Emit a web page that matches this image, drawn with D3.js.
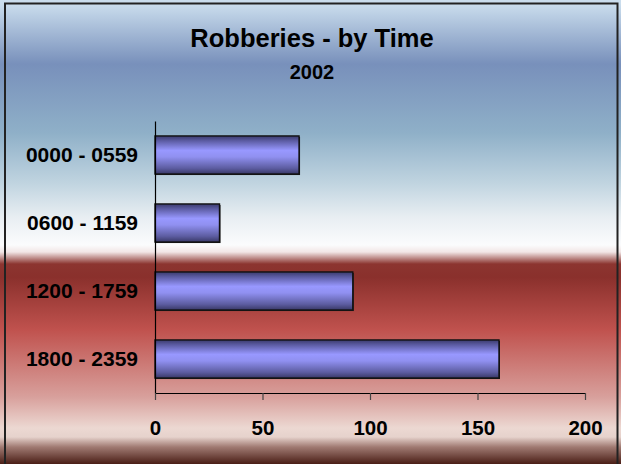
<!DOCTYPE html>
<html><head><meta charset="utf-8">
<script src="https://cdn.jsdelivr.net/npm/d3@7"></script>
<style>html,body{margin:0;padding:0;background:#fff;}svg{display:block;}</style>
</head><body>
<svg id="chart" width="621" height="464"></svg>
<script>
const categories = ["0000 - 0559", "0600 - 1159", "1200 - 1759", "1800 - 2359"];
const values = [67, 30, 92, 160];
const xTicks = [0, 50, 100, 150, 200];
const title = "Robberies - by Time";
const subtitle = "2002";

const W = 621, H = 464;
const svg = d3.select("#chart");
const defs = svg.append("defs");

const bg = defs.append("linearGradient").attr("id", "bg")
  .attr("x1", 0).attr("y1", 0).attr("x2", 0).attr("y2", H).attr("gradientUnits", "userSpaceOnUse");
[[4, "#cadded"], [64, "#7890bb"], [133, "#8fb0c8"], [183, "#c0d4e0"], [217, "#e8eef2"], [245, "#fbfcfd"], [252, "#f2e6e6"],
 [264, "#8c3530"], [277, "#8a302c"], [330, "#c0524e"], [397, "#d8a09c"], [428, "#ecd8d2"], [437, "#e6d2cc"],
 [447, "#a07a72"], [464, "#4a1e16"]]
  .forEach(([y, c]) => bg.append("stop").attr("offset", y / H).attr("stop-color", c));

const barG = defs.append("linearGradient").attr("id", "barg")
  .attr("x1", 0).attr("y1", 0).attr("x2", 0).attr("y2", 1);
[[0, "#3a3a6c"], [0.12, "#5a5aa0"], [0.38, "#9898ff"], [0.55, "#9090f0"], [0.85, "#5c5ca0"], [1, "#383866"]]
  .forEach(([o, c]) => barG.append("stop").attr("offset", o).attr("stop-color", c));

svg.append("rect").attr("x", 0).attr("y", 0).attr("width", W).attr("height", H).attr("fill", "url(#bg)");
svg.append("rect").attr("x", 5).attr("y", 3.5).attr("width", 612.5).attr("height", H).attr("fill", "none")
  .attr("stroke", "#222").attr("stroke-width", 2);

const font = "Liberation Sans, Arial, sans-serif";
svg.append("text").attr("x", 312).attr("y", 47).attr("text-anchor", "middle")
  .attr("font-family", font).attr("font-weight", "bold").attr("font-size", 25.5)
  .attr("fill", "#000").text(title);
svg.append("text").attr("x", 312).attr("y", 79).attr("text-anchor", "middle")
  .attr("font-family", font).attr("font-weight", "bold").attr("font-size", 20)
  .attr("fill", "#000").text(subtitle);

const x = d3.scaleLinear().domain([0, 200]).range([155, 585]);
const y = d3.scaleBand().domain(categories).range([121, 393]).paddingInner(0.44).paddingOuter(0.22);

const g = svg.append("g");
const bars = g.selectAll("g.bar").data(values).enter().append("g");
bars.append("rect")
  .attr("x", x(0) + 1).attr("y", (d, i) => y(categories[i]) + 1)
  .attr("width", d => x(d) - x(0)).attr("height", y.bandwidth())
  .attr("fill", "#1a1a1a");
bars.append("rect")
  .attr("x", x(0)).attr("y", (d, i) => y(categories[i]))
  .attr("width", d => x(d) - x(0)).attr("height", y.bandwidth())
  .attr("fill", "url(#barg)").attr("stroke", "#111").attr("stroke-width", 1.4);

// y axis
const yAxis = g.append("g").attr("transform", `translate(${x(0)},0)`)
  .call(d3.axisLeft(y).tickSize(0).tickPadding(17));
yAxis.select(".domain").attr("stroke", "#000").attr("stroke-width", 1.2);
yAxis.selectAll("text").attr("font-family", font)
  .attr("font-weight", "bold").attr("font-size", 21).attr("fill", "#000");

// x axis
const xAxis = g.append("g").attr("transform", "translate(0,393)")
  .call(d3.axisBottom(x).tickValues(xTicks).tickSize(7).tickSizeOuter(0).tickPadding(20).tickFormat(d3.format("d")));
xAxis.select(".domain").attr("stroke", "#000").attr("stroke-width", 1.2);
xAxis.selectAll(".tick line").attr("stroke", "#444").attr("stroke-width", 1.2);
xAxis.selectAll("text").attr("font-family", font)
  .attr("font-weight", "bold").attr("font-size", 20.5).attr("fill", "#000");
</script>
</body></html>
